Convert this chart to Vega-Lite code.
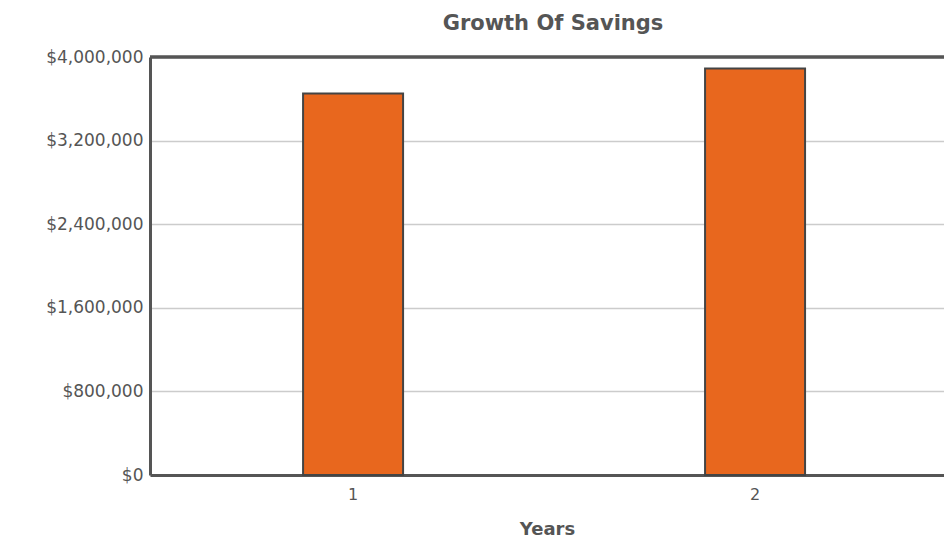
{
  "$schema": "https://vega.github.io/schema/vega-lite/v6.json",
  "autosize": {"type": "none"},
  "padding": {"left": 150, "top": 57, "right": 0, "bottom": 65},
  "width": 794,
  "height": 418,
  "background": "white",
  "config": {
    "view": {"stroke": null},
    "font": "DejaVu Sans"
  },
  "title": {
    "text": "Growth Of Savings",
    "font": "DejaVu Sans",
    "fontSize": 21,
    "fontWeight": "bold",
    "color": "#555555",
    "offset": 14,
    "dx": 6
  },
  "data": {
    "values": [
      {"year": "1", "savings": 3650000},
      {"year": "2", "savings": 3890000}
    ]
  },
  "layer": [
    {
      "mark": {"type": "bar", "width": 100, "color": "#E8671E", "stroke": "#444444", "strokeWidth": 2},
      "encoding": {
        "x": {
          "field": "year",
          "type": "ordinal",
          "scale": {"paddingInner": 0.5, "paddingOuter": 0.2376, "align": 0.537},
          "axis": {
            "title": "Years",
            "labelAngle": 0,
            "ticks": false,
            "domainColor": "#555555",
            "domainWidth": 3,
            "labelFont": "DejaVu Sans",
            "labelFontSize": 16,
            "labelColor": "#555555",
            "labelPadding": 11,
            "titleFont": "DejaVu Sans",
            "titleFontSize": 18,
            "titleFontWeight": "bold",
            "titleColor": "#555555",
            "titlePadding": 18
          }
        },
        "y": {
          "field": "savings",
          "type": "quantitative",
          "scale": {"domain": [0, 4000000]},
          "axis": {
            "title": null,
            "values": [0, 800000, 1600000, 2400000, 3200000, 4000000],
            "format": "$,.0f",
            "ticks": false,
            "domainColor": "#555555",
            "domainWidth": 3,
            "gridColor": "#cccccc",
            "gridWidth": 1.5,
            "labelFont": "DejaVu Sans",
            "labelFontSize": 17,
            "labelColor": "#555555",
            "labelPadding": 7
          }
        }
      }
    },
    {
      "mark": {"type": "rule", "color": "#555555", "strokeWidth": 3},
      "encoding": {"y": {"datum": 4000000}}
    }
  ]
}
